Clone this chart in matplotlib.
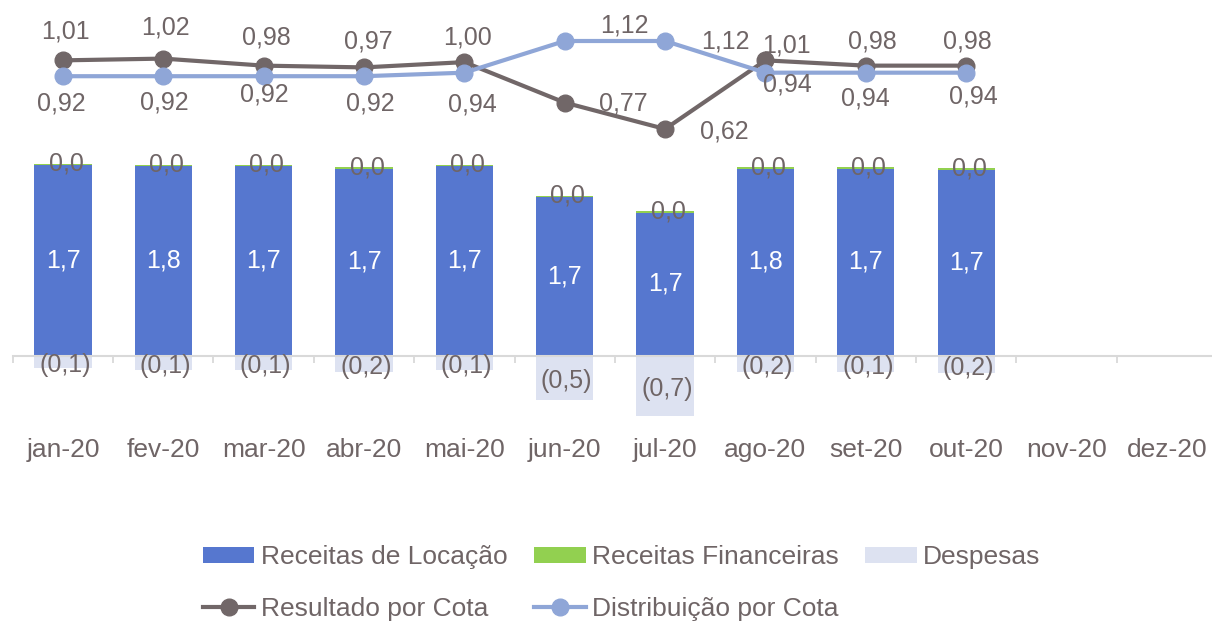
import matplotlib
matplotlib.use("Agg")
import matplotlib.pyplot as plt
import numpy as np

plt.rcParams['font.family'] = ['Liberation Sans', 'DejaVu Sans']

# dados
meses = ['jan-20', 'fev-20', 'mar-20', 'abr-20', 'mai-20', 'jun-20',
         'jul-20', 'ago-20', 'set-20', 'out-20', 'nov-20', 'dez-20']
receitas_locacao = [1.73, 1.72, 1.72, 1.70, 1.72, 1.44, 1.30, 1.70, 1.70, 1.69]
receitas_financeiras = [0.012, 0.012, 0.012, 0.012, 0.012, 0.012, 0.012, 0.012, 0.012, 0.012]
despesas = [-0.11, -0.13, -0.13, -0.15, -0.13, -0.40, -0.55, -0.15, -0.15, -0.16]
rotulos_locacao = ['1,7', '1,8', '1,7', '1,7', '1,7', '1,7', '1,7', '1,8', '1,7', '1,7']
rotulos_financeiras = ['0,0'] * 10
rotulos_despesas = ['(0,1)', '(0,1)', '(0,1)', '(0,2)', '(0,1)', '(0,5)', '(0,7)', '(0,2)', '(0,1)', '(0,2)']
resultado_cota = [1.01, 1.02, 0.98, 0.97, 1.00, 0.77, 0.62, 1.01, 0.98, 0.98]
distribuicao_cota = [0.92, 0.92, 0.92, 0.92, 0.94, 1.12, 1.12, 0.94, 0.94, 0.94]

# deslocamento dos rotulos das linhas (pixels)
desl_resultado = [(2, 29), (2, 31), (3, 28), (4, 26), (3, 25), (59, -1), (59, -3), (21, 15), (7, 24), (1, 24)]
desl_distribuicao = [(-2, -27), (1, -26), (1, -18), (6, -27), (8, -32), (60, 15), (60, 0), (22, -12), (0, -26), (7, -24)]

cor_texto = '#6F6566'
cor_azul = '#5677CF'
cor_verde = '#92D050'
cor_desp = '#DDE2F1'
cor_resultado = '#716768'
cor_distrib = '#8FA6D7'
cor_eixo = '#D9D9D9'

W, H = 1212, 621
fig = plt.figure(figsize=(W / 100, H / 100), dpi=100)
# eixo: topo em 0 px, base em 440 px
ax = fig.add_axes([12.8 / W, (H - 440) / H, (1217 - 12.8) / W, 440 / H])

x = np.arange(len(receitas_locacao))
larg = 0.57
b1 = ax.bar(x, receitas_locacao, larg, color=cor_azul, zorder=2)
b2 = ax.bar(x, receitas_financeiras, larg, bottom=receitas_locacao, color=cor_verde, zorder=2)
b3 = ax.bar(x, despesas, larg, color=cor_desp, zorder=1)

fs = 18
for i in range(len(x)):
    ax.text(x[i], receitas_locacao[i] / 2, rotulos_locacao[i], ha='center', va='center',
            color='white', fontsize=fs, zorder=3)
    ax.text(x[i] + 0.03, receitas_locacao[i] + receitas_financeiras[i], rotulos_financeiras[i],
            ha='center', va='center', color=cor_texto, fontsize=fs, zorder=3)
    ax.text(x[i] + 0.02, despesas[i] / 2 - 0.03, rotulos_despesas[i], ha='center', va='center',
            color=cor_texto, fontsize=fs, zorder=3)

ax.set_xlim(-0.5, 11.5)
ax.set_ylim(-(440 - 355.5) / 110, 355.5 / 110)
for s in ['top', 'right', 'left']:
    ax.spines[s].set_visible(False)
ax.spines['bottom'].set_position(('data', 0))
ax.spines['bottom'].set_color(cor_eixo)
ax.spines['bottom'].set_linewidth(1.5)
ax.set_yticks([])
ax.set_xticks(np.arange(-0.5, 12, 1))
ax.set_xticklabels([])
ax.tick_params(axis='x', direction='out', length=5, width=1.3, color=cor_eixo)
for i, m in enumerate(meses):
    ax.text(i, (355.5 - 457) / 110, m, ha='center', va='baseline', fontsize=19,
            color=cor_texto, clip_on=False)

# linhas no eixo secundario
ax2 = ax.twinx()
ax2.set_ylim(1.12 - (440 - 41) / 176, 1.12 + 41 / 176)
ax2.set_yticks([])
for s in ax2.spines.values():
    s.set_visible(False)
l1, = ax2.plot(x, resultado_cota, color=cor_resultado, lw=3, marker='o', ms=12, zorder=4)
l2, = ax2.plot(x, distribuicao_cota, color=cor_distrib, lw=3, marker='o', ms=12, zorder=5)

for i in range(len(x)):
    ax2.annotate(f'{resultado_cota[i]:.2f}'.replace('.', ','), (x[i], resultado_cota[i]),
                 xytext=desl_resultado[i], textcoords='offset pixels', ha='center', va='center',
                 fontsize=fs, color=cor_texto, zorder=6)
    ax2.annotate(f'{distribuicao_cota[i]:.2f}'.replace('.', ','), (x[i], distribuicao_cota[i]),
                 xytext=desl_distribuicao[i], textcoords='offset pixels', ha='center', va='center',
                 fontsize=fs, color=cor_texto, zorder=6)

# legenda (ordem por linha)
handles = [b1, l1, b2, l2, b3]
labels = ['Receitas de Locação', 'Resultado por Cota', 'Receitas Financeiras',
          'Distribuição por Cota', 'Despesas']
leg = fig.legend(handles, labels, ncol=3, loc='center left',
                 bbox_to_anchor=(203 / W, (H - 583) / H), frameon=False, fontsize=19,
                 handlelength=1.95, handleheight=0.55, handletextpad=0.25,
                 columnspacing=1.0, labelspacing=1.05, borderpad=0, borderaxespad=0,
                 numpoints=1)
for t in leg.get_texts():
    t.set_color(cor_texto)

fig.savefig('out.png', dpi=100)
